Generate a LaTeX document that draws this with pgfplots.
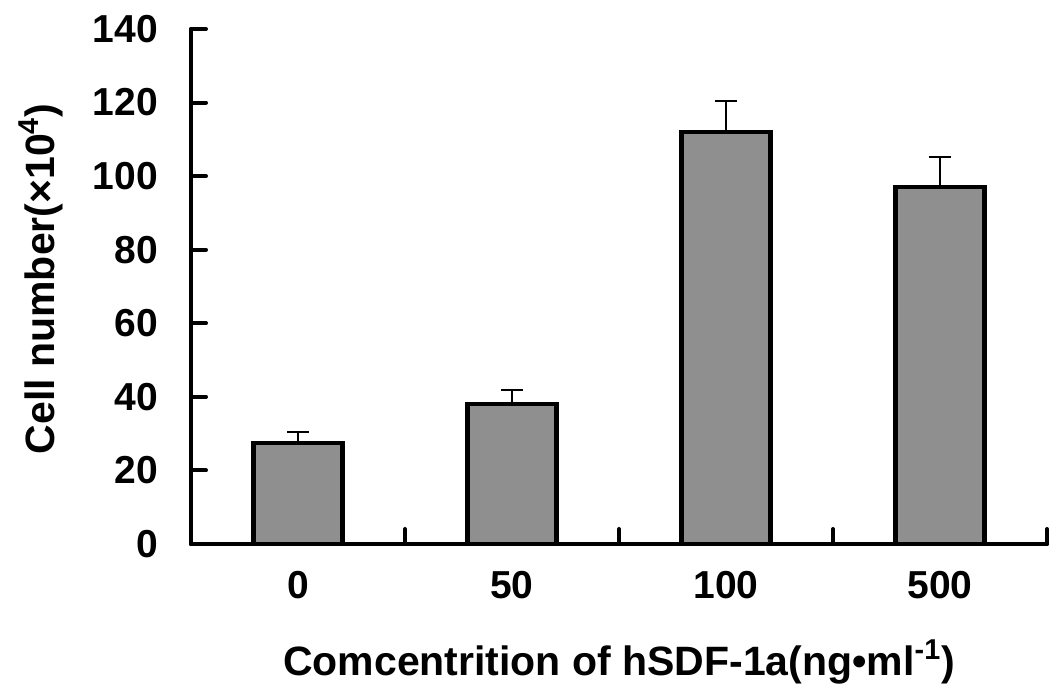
\documentclass[border=0pt]{standalone}
\usepackage{pgfplots}
\pgfplotsset{compat=1.18}
\usepackage{fontspec}
\setmainfont{Liberation Sans}
\definecolor{bargray}{RGB}{143,143,143}
\begin{document}
\begin{tikzpicture}
\useasboundingbox (-95.5pt,-77.5pt) rectangle (436pt,272pt);
\begin{axis}[
  at={(0,0)}, anchor=south west,
  scale only axis, width=428pt, height=257.5pt,
  xmin=-0.5, xmax=3.5, ymin=0, ymax=140,
  clip=false,
  axis x line*=bottom, axis y line*=left,
  axis line style={line width=2pt, line cap=round, black},
  tick align=inside,
  major tick length=7.5pt,
  tick style={line width=2pt, line cap=round, black},
  ytick={0,20,...,140},
  xtick={0.5,1.5,2.5,3.5},
  xticklabels={},
  extra x ticks={0,1,2,3},
  extra x tick labels={0,50,100,500},
  extra x tick style={major tick length=0pt},
  /pgf/number format/assume math mode=true,
  yticklabel style={font=\fontsize{19.5}{21}\selectfont\bfseries, anchor=east, xshift=-13pt},
  xticklabel style={font=\fontsize{19.5}{21}\selectfont\bfseries, anchor=north, yshift=-10pt},
  xlabel={Comcentrition of hSDF-1a(ng•ml\textsuperscript{-1})},
  xlabel style={font=\fontsize{20.5}{22}\selectfont\bfseries, at={(axis description cs:0.5,0)}, anchor=base, yshift=-65.5pt},
  ylabel={Cell number(×10\textsuperscript{4})},
  ylabel style={font=\fontsize{20.5}{23}\selectfont\bfseries, at={(axis description cs:-0.160,0.515)}, anchor=base},
]
\addplot[ybar, bar width=0.415, fill=bargray, draw=black, line width=2.2pt,
  error bars/.cd, y dir=plus, y explicit,
  error bar style={line width=1pt, black},
  error mark options={rotate=90, mark size=5.5pt, line width=1pt, black}]
  coordinates {
  (0,27.4) +- (0,3.0)
  (1,38.0) +- (0,3.8)
  (2,112.0) +- (0,8.4)
  (3,97.0) +- (0,8.2)
  };
\end{axis}
\end{tikzpicture}
\end{document}
